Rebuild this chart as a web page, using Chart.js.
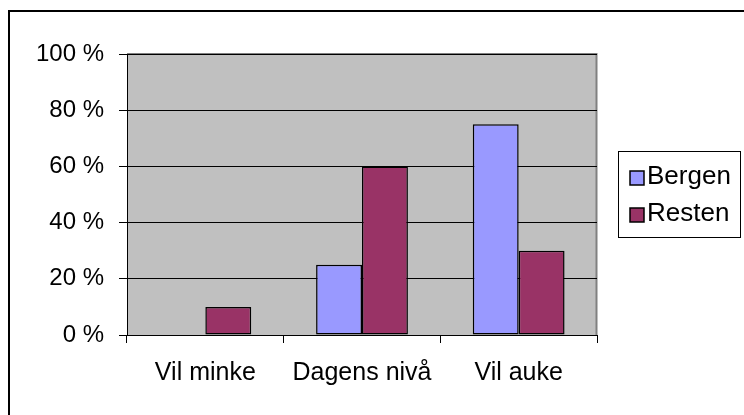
<!DOCTYPE html>
<html>
<head>
<meta charset="utf-8">
<script src="https://cdn.jsdelivr.net/npm/chart.js@4"></script>
<style>
  html, body { margin: 0; padding: 0; background: #fff; }
  #wrap { width: 744px; height: 415px; position: relative; }
</style>
</head>
<body>
<div id="wrap"><canvas id="surveyChart" width="744" height="415"></canvas></div>
<script>
var categories = ['Vil minke', 'Dagens nivå', 'Vil auke'];
var bergen = [0, 25, 75];
var resten = [10, 60, 30];
var yTicks = [0, 20, 40, 60, 80, 100];

var fontFamily = '"Liberation Sans", Arial, sans-serif';

// grey plot area + outer frame, like the old Excel chart
var backdrop = {
    id: 'backdrop',
    beforeDraw: function(chart) {
        var c = chart.ctx, a = chart.chartArea;
        c.save();
        c.fillStyle = '#fff';
        c.fillRect(0, 0, chart.width, chart.height);
        c.strokeStyle = '#000';
        c.lineWidth = 2;
        c.strokeRect(9, 11, chart.width + 10, chart.height + 10);
        c.fillStyle = '#C0C0C0';
        c.fillRect(a.left, a.top, a.right - a.left, a.bottom - a.top);
        c.strokeStyle = '#808080';
        c.lineWidth = 2;
        c.beginPath();
        c.moveTo(a.left, a.top);
        c.lineTo(a.right - 0.5, a.top);
        c.lineTo(a.right - 0.5, a.bottom);
        c.stroke();
        c.restore();
    }
};

// legend box on the right
var boxLegend = {
    id: 'boxLegend',
    afterDraw: function(chart) {
        var c = chart.ctx;
        var x = 618.5, y = 151.5, w = 122, h = 86;
        c.save();
        c.fillStyle = '#fff';
        c.fillRect(x, y, w, h);
        c.strokeStyle = '#000';
        c.lineWidth = 1;
        c.strokeRect(x, y, w, h);
        c.font = '26px ' + fontFamily;
        c.textBaseline = 'middle';
        chart.data.datasets.forEach(function(ds, i) {
            var cy = 178 + i * 37;
            c.fillStyle = ds.backgroundColor;
            c.fillRect(630, cy - 7, 14, 14);
            c.strokeStyle = '#000';
            c.lineWidth = 1.5;
            c.strokeRect(630, cy - 7, 14, 14);
            c.fillStyle = '#000';
            c.fillText(ds.label, 647, cy - 1);
        });
        c.restore();
    }
};

var ctx = document.getElementById('surveyChart').getContext('2d');
var surveyChart = new Chart(ctx, {
    type: 'bar',
    data: {
        labels: categories,
        datasets: [{
            label: 'Bergen',
            data: bergen,
            backgroundColor: '#9999FF',
            borderColor: '#000',
            borderWidth: 1.5,
            borderSkipped: false
        }, {
            label: 'Resten',
            data: resten,
            backgroundColor: '#993366',
            borderColor: '#000',
            borderWidth: 1.5,
            borderSkipped: false
        }]
    },
    options: {
        responsive: false,
        animation: false,
        layout: { padding: { left: 0, top: 54, right: 147, bottom: 0 } },
        datasets: { bar: { categoryPercentage: 0.586, barPercentage: 1.0 } },
        plugins: {
            legend: { display: false },
            tooltip: { enabled: false }
        },
        scales: {
            x: {
                grid: {
                    offset: true,
                    drawOnChartArea: false,
                    drawTicks: true,
                    tickLength: 8,
                    color: '#000',
                    lineWidth: 1
                },
                border: { color: '#000', width: 1 },
                ticks: {
                    color: '#000',
                    padding: 15,
                    maxRotation: 0,
                    font: { family: fontFamily, size: 25 }
                },
                afterFit: function(scale) { scale.height = 80; }
            },
            y: {
                min: 0,
                max: 100,
                afterBuildTicks: function(scale) {
                    scale.ticks = yTicks.map(function(v) { return { value: v }; });
                },
                grid: {
                    color: '#000',
                    lineWidth: 1,
                    tickLength: 8
                },
                border: { color: '#000', width: 1 },
                ticks: {
                    color: '#000',
                    padding: 15,
                    font: { family: fontFamily, size: 24 },
                    callback: function(v) { return v + ' %'; }
                },
                afterFit: function(scale) { scale.width = 127; }
            }
        }
    },
    plugins: [backdrop, boxLegend]
});
</script>
</body>
</html>
